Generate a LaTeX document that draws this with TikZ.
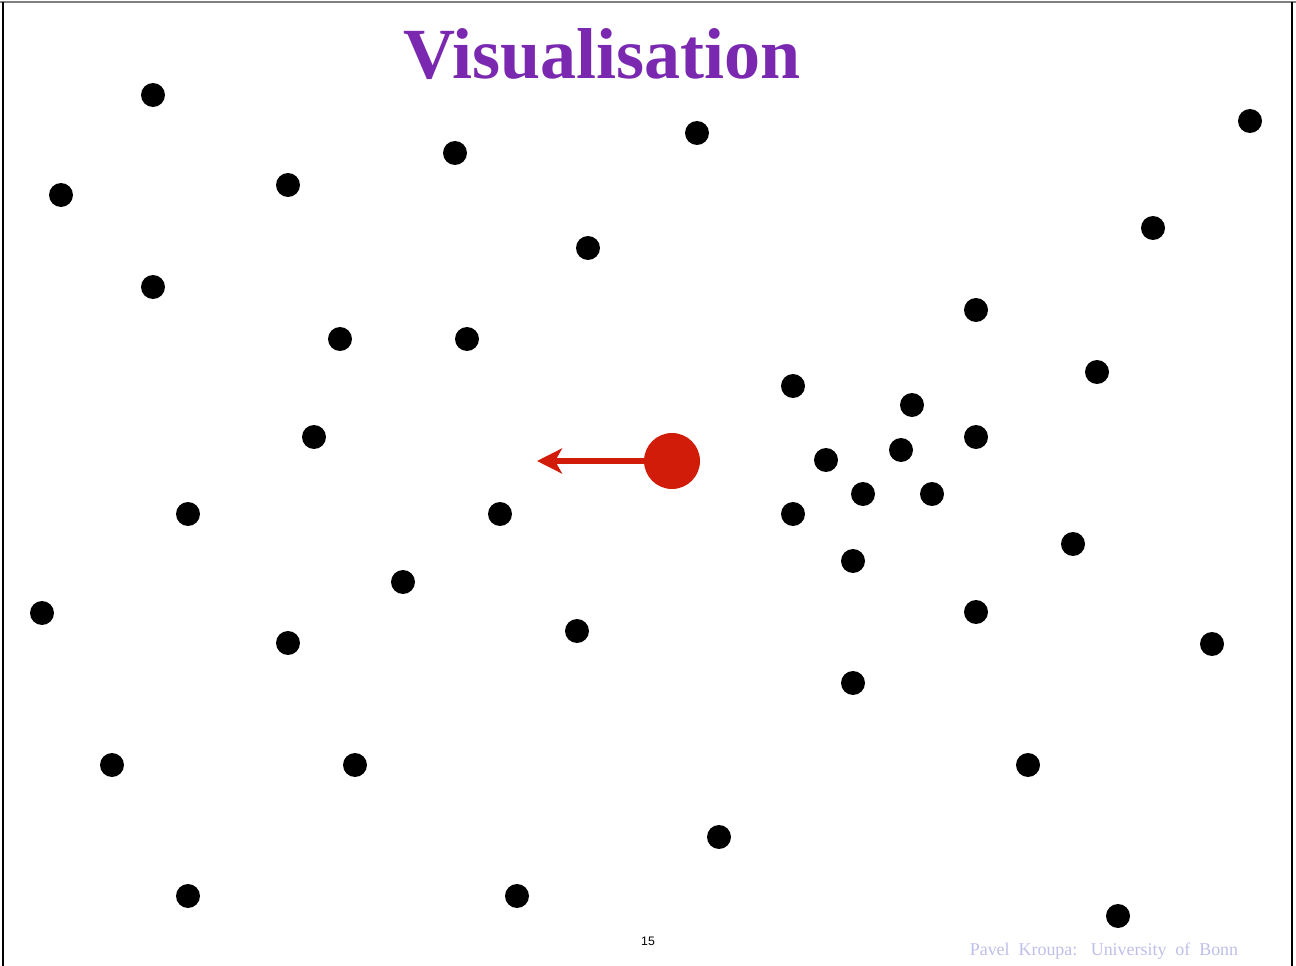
\documentclass[tikz,border=0pt]{standalone}
\usepackage{fontspec}
\setmainfont{Liberation Serif}
\newfontfamily\numfont{Liberation Sans}
\usetikzlibrary{arrows.meta, positioning}
\definecolor{titlepurple}{RGB}{122,40,176}
\definecolor{starred}{RGB}{210,28,10}
\definecolor{footlav}{RGB}{190,190,232}

\begin{document}
\begin{tikzpicture}[x=0.02cm, y=-0.02cm,
    star/.style={circle, fill=black, inner sep=0pt, minimum size=0.48cm},
    runaway/.style={circle, fill=starred, inner sep=0pt, minimum size=1.12cm}]
  \useasboundingbox (0,0) rectangle (1296,966);
  % frame
  \draw[gray, line width=1.2pt] (0,2) -- (1296,2);
  \draw[black, line width=0.8pt] (3,2) -- (3,966);
  \draw[black, line width=0.8pt] (1292,2) -- (1292,966);

  \node[text=titlepurple, font=\bfseries\fontsize{41}{41}\selectfont] (title) at (602,54) {Visualisation};

  % field stars
  \foreach \x/\y [count=\i] in {153/95, 697/133, 1250/121, 455/153, 288/185, 61/195,
      1153/228, 588/248, 153/287, 976/310, 340/339, 467/339, 1097/372, 793/386,
      912/405, 314/437, 976/437, 901/450, 826/460, 863/494, 932/494, 188/514,
      500/514, 793/514, 1073/544, 853/561, 403/582, 42/613, 976/612, 577/631,
      288/643, 1212/644, 853/683, 112/765, 355/765, 1028/765, 719/837, 188/896,
      517/896, 1118/916}
    \node[star] (s\i) at (\x,\y) {};

  % the escaping star
  \node[runaway] (red) at (672,461) {};
  \coordinate (tip) at (537,461);
  \draw[starred, line width=3.8pt, -{Stealth[length=0.5cm, width=0.5cm, inset=0.14cm]}] (red) -- (tip);

  \node[font=\numfont\fontsize{7}{7}\selectfont] (page) at (648,941) {15};
  \node[text=footlav, font=\fontsize{10.2}{10.2}\selectfont] (foot) at (1104,951) {Pavel\ \ Kroupa:\ \ \ University\ \ of\ \ Bonn};
\end{tikzpicture}
\end{document}
